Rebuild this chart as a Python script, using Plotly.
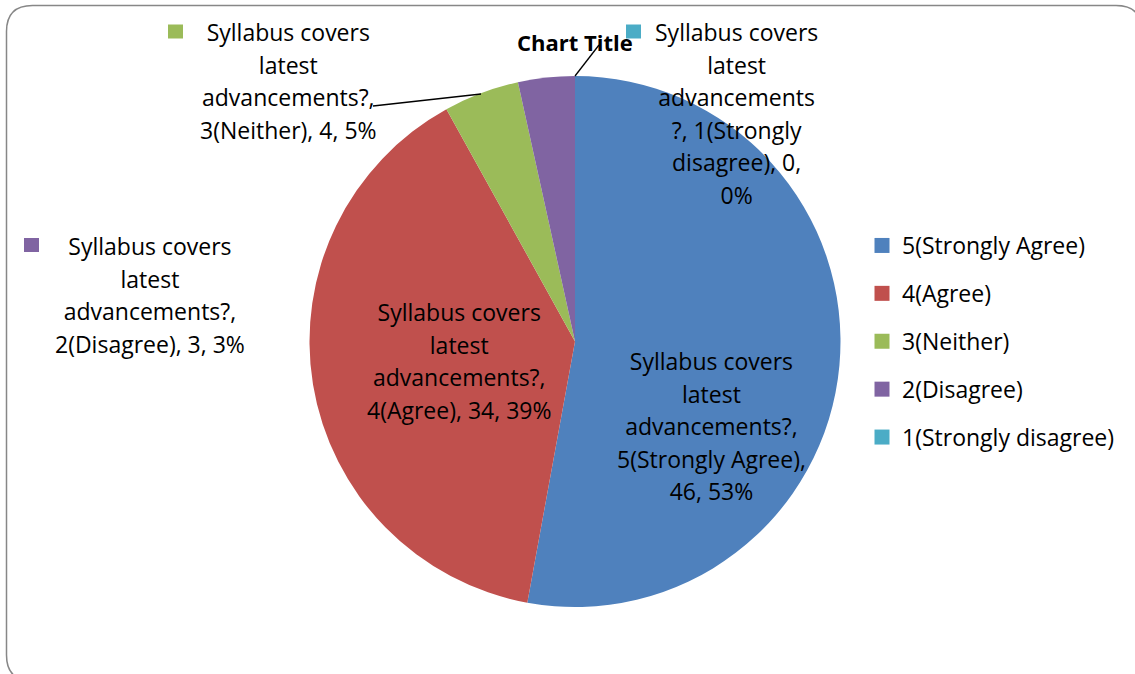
import textwrap
import plotly.graph_objects as go

# ---------------- data ----------------
series_name = "Syllabus covers latest advancements?"
categories = ["5(Strongly Agree)", "4(Agree)", "3(Neither)", "2(Disagree)", "1(Strongly disagree)"]
values = [46, 34, 4, 3, 0]
colors = ["#4F81BD", "#C0504D", "#9BBB59", "#8064A2", "#4BACC6"]
chart_title = "Chart Title"

W, H = 1135, 674
FONT = "Open Sans"
FS = 23


def px(x):
    return x / W


def py(y):
    return 1 - y / H


total = sum(values)
pcts = [round(v * 100 / total) for v in values]
full_labels = [f"{series_name}, {c}, {v}, {p}%" for c, v, p in zip(categories, values, pcts)]
label_lines = [textwrap.wrap(t, 18) for t in full_labels]
# Excel broke the last label mid-word
t = full_labels[4]
label_lines[4] = [t[:15], t[16:22], t[23:35], t[35:48], t[49:62], t[63:]]

fig = go.Figure()

fig.add_trace(go.Pie(
    labels=categories, values=values, sort=False, direction="clockwise", rotation=0,
    marker=dict(colors=colors, line=dict(width=0)),
    textinfo="none", hoverinfo="label+value+percent", showlegend=False,
    domain=dict(x=[px(309), px(841)], y=[py(607), py(76)]),
))

# legend entries (one group each so spacing can be set)
for c, col in zip(categories, colors):
    fig.add_trace(go.Scatter(
        x=[None], y=[None], mode="markers", name=c, legendgroup=c,
        marker=dict(symbol="square", size=15, color=col),
        showlegend=True,
    ))

# data labels: positions (px) of each label block centre
label_pos = [(711, 425.5), (459, 361), (288, 80.5), (150, 295), (736, 113.5)]
key_pos = [None, None, (175.5, 31.5), (31.5, 245), (633.5, 31.5)]

shapes = []
annotations = []
for i, lines in enumerate(label_lines):
    txt = "<br>".join(f"<span style='font-size:{FS}px'>{l}</span>" for l in lines)
    x, y = label_pos[i]
    annotations.append(dict(
        x=px(x), y=py(y), xref="paper", yref="paper", text=txt, showarrow=False,
        xanchor="center", yanchor="middle", align="center",
        font=dict(family=FONT, size=25, color="#000000"),
    ))
    if key_pos[i] is not None:
        kx, ky = key_pos[i]
        shapes.append(dict(type="rect", xref="paper", yref="paper",
                           x0=px(kx - 7.5), x1=px(kx + 7.5), y0=py(ky + 7), y1=py(ky - 7),
                           fillcolor=colors[i], line=dict(width=0)))

# leader lines
shapes.append(dict(type="line", xref="paper", yref="paper",
                   x0=px(373), y0=py(106), x1=px(481), y1=py(94), line=dict(color="#000", width=1.3)))
shapes.append(dict(type="line", xref="paper", yref="paper",
                   x0=px(575), y0=py(76), x1=px(599), y1=py(45), line=dict(color="#000", width=1.3)))

# rounded chart border
x0, y0, x1, y1, r = 6.5, 5.5, 1142, 681, 26
path = (f"M {px(x0 + r)} {py(y0)} L {px(x1 - r)} {py(y0)} "
        f"Q {px(x1)} {py(y0)} {px(x1)} {py(y0 + r)} L {px(x1)} {py(y1 - r)} "
        f"Q {px(x1)} {py(y1)} {px(x1 - r)} {py(y1)} L {px(x0 + r)} {py(y1)} "
        f"Q {px(x0)} {py(y1)} {px(x0)} {py(y1 - r)} L {px(x0)} {py(y0 + r)} "
        f"Q {px(x0)} {py(y0)} {px(x0 + r)} {py(y0)} Z")
shapes.append(dict(type="path", xref="paper", yref="paper", path=path,
                   line=dict(color="#878787", width=1.5)))

annotations.append(dict(
    x=px(575), y=py(42), xref="paper", yref="paper", text=f"<b>{chart_title}</b>",
    showarrow=False, xanchor="center", yanchor="middle",
    font=dict(family=FONT, size=22, color="#000000"),
))

fig.update_layout(
    width=W, height=H, margin=dict(l=0, r=0, t=0, b=0),
    paper_bgcolor="white", plot_bgcolor="white",
    xaxis=dict(visible=False), yaxis=dict(visible=False),
    shapes=shapes, annotations=annotations,
    legend=dict(x=px(862), y=py(224), xanchor="left", yanchor="top",
                font=dict(family=FONT, size=FS, color="#000000"),
                tracegroupgap=15, bgcolor="rgba(0,0,0,0)"),
    showlegend=True,
)

fig.write_html("out.html", config={"displayModeBar": False},
               post_script="document.body.style.margin='0';document.body.style.padding='0';"
                           "document.body.style.overflow='hidden';")
